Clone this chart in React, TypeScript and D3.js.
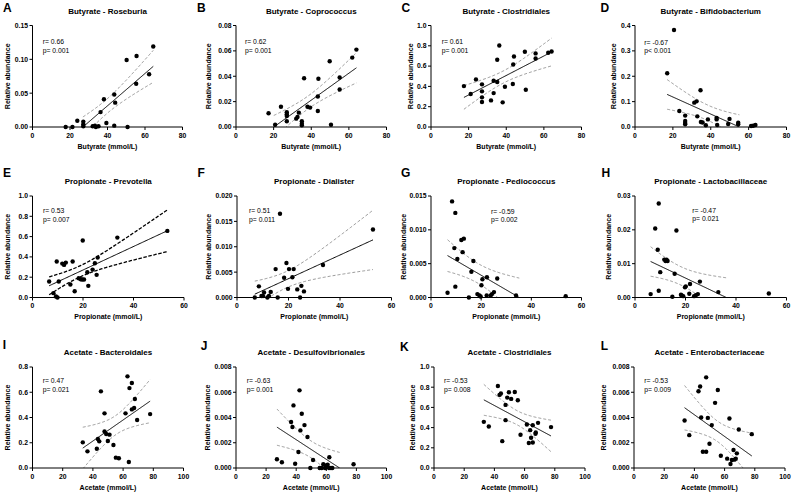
import React from "react";
import * as d3 from "d3";

// ---------- data ----------
const letters = ["A", "B", "C", "D", "E", "F", "G", "H", "I", "J", "K", "L"];
const titles = [
  "Butyrate - Roseburia", "Butyrate - Coprococcus", "Butyrate - Clostridiales", "Butyrate - Bifidobacterium",
  "Propionate - Prevotella", "Propionate - Dialister", "Propionate - Pediococcus", "Propionate - Lactobacillaceae",
  "Acetate - Bacteroidales", "Acetate - Desulfovibrionales", "Acetate - Clostridiales", "Acetate - Enterobacteriaceae",
];
const xLabels = [
  "Butyrate (mmol/L)", "Butyrate (mmol/L)", "Butyrate (mmol/L)", "Butyrate (mmol/L)",
  "Propionate (mmol/L)", "Propionate (mmol/L)", "Propionate (mmol/L)", "Propionate (mmol/L)",
  "Acetate (mmol/L)", "Acetate (mmol/L)", "Acetate (mmol/L)", "Acetate (mmol/L)",
];
const rTexts = ["r= 0.66", "r= 0.62", "r= 0.61", "r= -0.67", "r= 0.53", "r= 0.51", "r= -0.59", "r= -0.47", "r= 0.47", "r= -0.63", "r= -0.53", "r= -0.53"];
const pTexts = ["p= 0.001", "p= 0.001", "p= 0.001", "p< 0.001", "p= 0.007", "p= 0.011", "p= 0.002", "p= 0.021", "p= 0.021", "p= 0.001", "p= 0.008", "p= 0.009"];
const yMaxes = [0.15, 0.08, 1.0, 0.4, 1.0, 0.02, 0.015, 0.03, 0.8, 0.008, 1.0, 0.008];
const ySteps = [0.05, 0.02, 0.2, 0.1, 0.2, 0.005, 0.005, 0.01, 0.2, 0.002, 0.2, 0.002];
const yDecimals = [2, 2, 1, 1, 1, 3, 3, 2, 1, 3, 1, 3];
const xMaxes = [80, 80, 80, 80, 60, 60, 60, 60, 100, 100, 100, 100];
const xStep = 20;

const A_x = [17.7, 21.3, 23.9, 27.1, 27.1, 27.1, 32.1, 33.3, 33.8, 35.2, 36.3, 38.1, 39.4, 43.6, 44.1, 43.6, 50.2, 50.7, 55.5, 55.3, 62.2, 64.4];
const A_y = [0, 0, 0.0093, 0.008, 0.004, 0.001, 0.001, 0.002, 0, 0.001, 0.022, 0.041, 0.006, 0.048, 0.036, 0.002, 0.099, 0, 0.105, 0.064, 0.078, 0.119];
const B_x = [17.3, 20.8, 23.9, 27.0, 27.0, 27.0, 27.0, 32.0, 32.7, 33.4, 35.0, 35.0, 35.0, 36.2, 38.0, 39.4, 43.5, 43.5, 43.8, 49.8, 50.5, 55.1, 55.1, 61.8, 64.0];
const B_y = [0.0108, 0.0018, 0.016, 0.0116, 0.010, 0.0087, 0.0045, 0.0066, 0.0079, 0.0113, 0.0045, 0.0026, 0.0013, 0.0384, 0.016, 0.0153, 0.024, 0.0126, 0.038, 0.0518, 0.0018, 0.0295, 0.039, 0.0547, 0.061];
const C_x = [17.5, 21.1, 23.9, 27.1, 27.1, 27.1, 27.1, 31.9, 33.3, 33.3, 35.2, 35.2, 36.3, 38.1, 39.3, 43.5, 43.7, 44.1, 49.9, 50.4, 55.6, 55.6, 62.3, 64.1];
const C_y = [0.403, 0.325, 0.469, 0.42, 0.351, 0.292, 0.246, 0.262, 0.456, 0.334, 0.443, 0.662, 0.803, 0.243, 0.397, 0.423, 0.616, 0.695, 0.741, 0.367, 0.725, 0.675, 0.731, 0.744];
const D_x = [17.0, 20.6, 23.4, 26.5, 26.5, 26.5, 26.5, 31.3, 32.5, 32.9, 34.6, 34.8, 35.7, 37.4, 38.5, 43.1, 43.1, 43.4, 49.2, 49.9, 54.5, 54.5, 61.3, 62.4, 63.6];
const D_y = [0.212, 0.382, 0.063, 0.045, 0.024, 0.016, 0.011, 0.096, 0.101, 0.042, 0.145, 0.02, 0.018, 0.007, 0.03, 0.036, 0.03, 0.008, 0.012, 0.032, 0.017, 0.011, 0.004, 0.005, 0.008];
const E_x = [6.6, 8.3, 9.3, 9.9, 9.6, 10.4, 11.8, 12.5, 13.2, 15.0, 15.9, 16.7, 18.3, 19.1, 19.7, 20.4, 19.9, 21.7, 22.1, 23.8, 24.7, 25.4, 25.8, 33.6, 53.4];
const E_y = [0.157, 0.043, 0.01, 0, 0.354, 0.157, 0.334, 0.321, 0.344, 0.128, 0.354, 0.062, 0.19, 0.18, 0.177, 0.177, 0.561, 0.249, 0.115, 0.275, 0.338, 0.223, 0.393, 0.59, 0.656];
const F_x = [6.9, 8.5, 9.5, 10.1, 10.5, 11.8, 12.4, 13.1, 15.0, 15.8, 16.7, 18.3, 19.2, 19.8, 20.2, 22.0, 21.5, 23.4, 24.5, 25.0, 26.0, 33.4, 52.8];
const F_y = [0, 0.0022, 0.0003, 0.0003, 0.001, 0, 0.0003, 0.0011, 0.0056, 0, 0.0165, 0.0039, 0.0068, 0.0017, 0.0056, 0.0056, 0.004, 0.0016, 0, 0.0023, 0.0012, 0.0064, 0.0134];
const G_x = [6.6, 8.4, 9.3, 9.7, 9.7, 10.5, 12.1, 13.1, 12.6, 15.1, 16.1, 16.9, 18.5, 19.3, 19.8, 20.1, 20.5, 22.3, 22.2, 23.8, 24.3, 25.1, 26.4, 33.9, 53.7];
const G_y = [0.0007, 0.0142, 0.0073, 0.0125, 0.0016, 0.0057, 0.0085, 0.0087, 0.0067, 0, 0.0038, 0.0054, 0.0005, 0.0003, 0.00015, 0.0018, 0.0027, 0.003, 0.0003, 0.0003, 0.0005, 0.0008, 0.0028, 0.0003, 0.0002];
const H_x = [6.2, 8.0, 9.0, 9.4, 9.4, 10.0, 11.6, 12.1, 12.5, 12.9, 14.8, 15.7, 16.4, 18.2, 18.5, 19.1, 19.8, 20.1, 21.8, 21.5, 23.4, 24.1, 24.9, 25.7, 33.0, 53.0];
const H_y = [0.001, 0.0204, 0.0141, 0.0278, 0.002, 0.0075, 0.0112, 0.0108, 0.0112, 0.0108, 0.0002, 0.007, 0.0198, 0.0008, 0.0006, 0.0004, 0.003, 0.0033, 0.004, 0.0011, 0.0004, 0.0007, 0.001, 0.0047, 0.0016, 0.0012];
const I_x = [33.3, 36.4, 42.6, 43.3, 44.2, 45.3, 47.7, 47.7, 48.8, 49.9, 51.0, 53.6, 55.2, 57.2, 61.6, 62.9, 64.2, 63.8, 65.8, 65.8, 67.3, 67.8, 69.3, 77.9];
const I_y = [0.203, 0.132, 0.153, 0.23, 0.211, 0.607, 0.433, 0.29, 0.269, 0.214, 0.264, 0.182, 0.082, 0.077, 0.433, 0.726, 0.633, 0.047, 0.673, 0.464, 0.475, 0.546, 0.38, 0.427];
const J_x = [27.2, 30.5, 36.6, 37.5, 38.2, 39.3, 41.5, 42.2, 42.8, 43.7, 45.5, 47.5, 49.4, 51.2, 55.6, 57, 58, 59.2, 59.8, 60.9, 61.8, 62, 63.1, 64, 78.1];
const J_y = [0.00069, 0.00045, 0.00364, 0.00325, 0.00496, 0.00034, 0.00127, 0.00615, 0.00298, 0.0043, 0.0034, 0.00246, 0, 0.00063, 0, 0, 0.0003, 0, 0.0002, 0.00026, 0, 0.00085, 0, 0, 0.0003];
const K_x = [33.0, 36.3, 42.3, 43.4, 44.3, 45.2, 47.4, 47.4, 48.5, 49.6, 51.1, 53.5, 55.5, 57.3, 61.5, 62.8, 63.7, 64.3, 65.4, 65.4, 67.2, 67.4, 68.9, 77.5];
const K_y = [0.457, 0.411, 0.812, 0.724, 0.737, 0.266, 0.625, 0.474, 0.697, 0.75, 0.684, 0.753, 0.671, 0.329, 0.431, 0.247, 0.375, 0.299, 0.424, 0.253, 0.339, 0.352, 0.447, 0.405];
const L_x = [33.5, 36.6, 42.7, 43.8, 44.5, 45.6, 47.8, 47.8, 48.9, 50, 51.5, 53.7, 55.5, 57.5, 61.7, 63.2, 63.9, 64.8, 65.9, 66.5, 67.4, 68.1, 69.4, 78];
const L_y = [0.00376, 0.0026, 0.00608, 0.00645, 0.004, 0.00129, 0.00129, 0.00718, 0.00397, 0.00192, 0.0034, 0.00516, 0.00618, 0.00097, 0.00074, 0.00392, 0.00032, 0.00063, 0.00142, 0.00066, 0.00074, 0.00116, 0.00305, 0.00268];

const seriesX = [A_x, B_x, C_x, D_x, E_x, F_x, G_x, H_x, I_x, J_x, K_x, L_x];
const seriesY = [A_y, B_y, C_y, D_y, E_y, F_y, G_y, H_y, I_y, J_y, K_y, L_y];

// ---------- layout ----------
// [left, right, top, bottom] of each plot area
const frames = [
  [32.5, 182.5, 25.5, 127], [236, 386.5, 25.5, 127], [431, 581.5, 25.5, 127], [635, 786.5, 25.5, 127],
  [32.5, 184, 196, 297.5], [237, 391.5, 196, 297.5], [431, 581.5, 196, 297.5], [635, 786.5, 196, 297.5],
  [32.5, 183.5, 367, 468], [236, 386.5, 367, 468], [434, 585, 367, 468], [634, 785, 367, 468],
];
const letterPos = [
  [3, 11.7], [197, 11.7], [401.5, 11.7], [600.5, 11.7],
  [3, 176.7], [197.5, 176.7], [401, 176.7], [601.5, 176.7],
  [2.7, 348.7], [200.7, 349.7], [400, 351.3], [600.7, 349.7],
];
const titleBase = [13.8, 13.8, 13.8, 13.8, 183.7, 183.7, 183.7, 183.7, 355, 355, 355, 355];
const yLabelX = [7.5, 209, 411, 613.5, 7.5, 209, 404, 609, 7.5, 208, 412.5, 604];
const annotX = [42.7, 245, 441.7, 644.3, 43, 249, 491, 692.3, 42.7, 246.7, 444, 644.3];
const annotY = [44.3, 44.3, 44.3, 44.7, 213.3, 213.3, 213.5, 212.5, 383, 383, 383, 383];

const FONT = "'Liberation Sans', Arial, Helvetica, sans-serif";

function tCrit(df: number) {
  const z = 1.959964;
  const z3 = z ** 3, z5 = z ** 5, z7 = z ** 7;
  return z + (z3 + z) / 4 / df + (5 * z5 + 16 * z3 + 3 * z) / 96 / df ** 2 + (3 * z7 + 19 * z5 + 17 * z3 - 15 * z) / 384 / df ** 3;
}

function fitLine(xs: number[], ys: number[]) {
  const n = xs.length;
  const mx = d3.mean(xs)!;
  const my = d3.mean(ys)!;
  let sxx = 0, sxy = 0;
  for (let i = 0; i < n; i++) {
    sxx += (xs[i] - mx) ** 2;
    sxy += (xs[i] - mx) * (ys[i] - my);
  }
  const b = sxy / sxx;
  const a = my - b * mx;
  let sse = 0;
  for (let i = 0; i < n; i++) sse += (ys[i] - (a + b * xs[i])) ** 2;
  const s = Math.sqrt(sse / (n - 2));
  const t = tCrit(n - 2);
  return { a, b, mx, sxx, s, t, n };
}

function Panel({ i }: { i: number }) {
  const [left, right, top, bottom] = frames[i];
  const xs = seriesX[i];
  const ys = seriesY[i];
  const x = d3.scaleLinear().domain([0, xMaxes[i]]).range([left, right]);
  const y = d3.scaleLinear().domain([0, yMaxes[i]]).range([bottom, top]);
  const f = fitLine(xs, ys);
  let x0 = d3.min(xs)!;
  let x1 = d3.max(xs)!;
  const zeroX = -f.a / f.b;
  if (f.b > 0) x0 = Math.max(x0, zeroX);
  else x1 = Math.min(x1, zeroX);
  const samples = d3.range(0, 101).map((k) => x0 + ((x1 - x0) * k) / 100);
  const fitY = (v: number) => f.a + f.b * v;
  const half = (v: number) => f.t * f.s * Math.sqrt(1 / f.n + (v - f.mx) ** 2 / f.sxx);
  const line = d3.line<number>().x((v) => x(v)).y((v) => y(fitY(v)));
  const upper = d3.line<number>().x((v) => x(v)).y((v) => y(fitY(v) + half(v)));
  const lower = d3.line<number>().x((v) => x(v)).y((v) => y(fitY(v) - half(v)));
  const yTicks = d3.range(0, Math.round(yMaxes[i] / ySteps[i]) + 1).map((k) => k * ySteps[i]);
  const xTicks = d3.range(0, xMaxes[i] / xStep + 1).map((k) => k * xStep);
  const clipId = `clip-${i}`;
  const bold = i === 4;
  const dashColor = bold ? "#000" : "#808080";
  const dashW = bold ? 1.3 : 0.8;
  const dash = bold ? "3.5,1.6" : "3,2";
  const cx = (left + right) / 2;
  const cy = (top + bottom) / 2;
  return (
    <g>
      <defs>
        <clipPath id={clipId}>
          <rect x={left} y={top} width={right - left} height={bottom - top} />
        </clipPath>
      </defs>
      <text x={letterPos[i][0]} y={letterPos[i][1]} fontSize={12} fontWeight="bold" fontFamily={FONT} fill="#000">
        {letters[i]}
      </text>
      <text x={cx} y={titleBase[i]} fontSize={8} fontWeight="bold" fontFamily={FONT} textAnchor="middle" fill="#000">
        {titles[i]}
      </text>
      <g clipPath={`url(#${clipId})`} fill="none">
        <path d={upper(samples) || ""} stroke={dashColor} strokeWidth={dashW} strokeDasharray={dash} />
        <path d={lower(samples) || ""} stroke={dashColor} strokeWidth={dashW} strokeDasharray={dash} />
        <path d={line(samples) || ""} stroke="#000" strokeWidth={1} />
      </g>
      {/* axes */}
      <line x1={left} x2={left} y1={bottom} y2={top} stroke="#000" strokeWidth={1} />
      <line x1={left} x2={right} y1={bottom} y2={bottom} stroke="#000" strokeWidth={1} />
      {yTicks.map((v) => (
        <g key={`y${v}`}>
          <line x1={left - 3} x2={left} y1={y(v)} y2={y(v)} stroke="#000" strokeWidth={1} />
          <text x={left - 4.5} y={y(v)} dy="0.35em" fontSize={6.8} fontWeight="bold" fontFamily={FONT} textAnchor="end" fill="#000">
            {v.toFixed(yDecimals[i])}
          </text>
        </g>
      ))}
      {xTicks.map((v) => (
        <g key={`x${v}`}>
          <line x1={x(v)} x2={x(v)} y1={bottom} y2={bottom + 3} stroke="#000" strokeWidth={1} />
          <text x={x(v)} y={bottom + 10.5} fontSize={6.8} fontWeight="bold" fontFamily={FONT} textAnchor="middle" fill="#000">
            {v}
          </text>
        </g>
      ))}
      <text x={cx} y={bottom + 21.5} fontSize={7} fontWeight="bold" fontFamily={FONT} textAnchor="middle" fill="#000">
        {xLabels[i]}
      </text>
      <text
        transform={`translate(${yLabelX[i]},${cy}) rotate(-90)`}
        dy="0.35em"
        fontSize={7}
        fontWeight="bold"
        fontFamily={FONT}
        textAnchor="middle"
        fill="#000"
      >
        Relative abundance
      </text>
      <text x={annotX[i]} y={annotY[i]} fontSize={6.8} fontFamily={FONT} fill="#000">
        {rTexts[i]}
      </text>
      <text x={annotX[i]} y={annotY[i] + 8.5} fontSize={6.8} fontFamily={FONT} fill="#000">
        {pTexts[i]}
      </text>
      {xs.map((v, k) => (
        <circle key={k} cx={x(v)} cy={y(ys[k])} r={2.2} fill="#000" />
      ))}
    </g>
  );
}

export default function App() {
  return (
    <svg width={794} height={493} style={{ position: "absolute", left: 0, top: 0, background: "#fff" }}>
      <rect x={0} y={0} width={794} height={493} fill="#fff" />
      {letters.map((_, i) => (
        <Panel key={i} i={i} />
      ))}
    </svg>
  );
}
